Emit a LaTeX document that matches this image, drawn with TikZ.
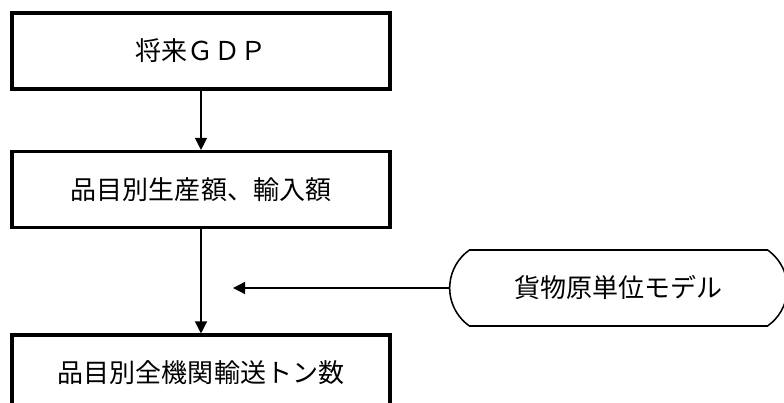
\documentclass[tikz,border=0pt]{standalone}
\usepackage{fontspec}
\setmainfont{Noto Sans CJK JP}
\usetikzlibrary{shapes.misc,arrows.meta}

\tikzset{
  flowbox/.style={draw, line width=2.2pt, minimum width=9.45cm, minimum height=1.9cm, font=\fontsize{18.5}{21}\selectfont},
  modelbox/.style={draw, line width=1.1pt, rounded rectangle, rounded rectangle arc length=110, minimum width=8.675cm, minimum height=1.9cm, font=\fontsize{18.5}{21}\selectfont},
  flow/.style={line width=0.9pt, -{Triangle[length=0.3cm, width=0.3cm]}}
}

\begin{document}
\begin{tikzpicture}
	\useasboundingbox (0,0) rectangle (19.6,10.075);
	\clip (0,0) rectangle (19.6,10.075);
	\node[flowbox] (gdp) at (5.025,8.8) {将来ＧＤＰ};
	\node[flowbox] (prod) at (5.025,5.3375) {品目別生産額、輸入額};
	\node[flowbox] (ton) at (5.025,0.75) {品目別全機関輸送トン数};
	\node[modelbox] (unit) at (15.4625,2.875) {貨物原単位モデル};
	\coordinate (tip) at (5.825,2.875);
	\draw[flow] (gdp) -- (prod);
	\draw[flow] (prod) -- (ton);
	\draw[flow] (unit) -- (tip);
\end{tikzpicture}
\end{document}
